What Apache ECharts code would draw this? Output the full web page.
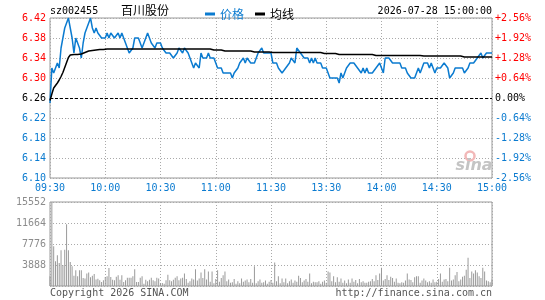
<!DOCTYPE html>
<html><head><meta charset="utf-8">
<script src="https://cdn.jsdelivr.net/npm/echarts/dist/echarts.min.js"></script>
<style>html,body{margin:0;padding:0;background:#fff}#c{width:545px;height:300px}</style>
</head><body><div id="c"></div>
<script>
const stockCode = 'sz002455';
const stockName = '百川股份';
const dateText = '2026-07-28 15:00:00';
const legendNames = ['价格', '均线'];
const prevClose = 6.26;
const timeLabels = ['09:30','10:00','10:30','11:00','11:30','13:30','14:00','14:30','15:00'];
const volMax = 15552;
const volStep = 3888;

const price = [
6.25,6.32,6.31,6.32,6.33,6.32,6.36,6.38,6.40,6.40,
6.42,6.40,6.38,6.35,6.38,6.37,6.36,6.34,6.37,6.39,
6.40,6.41,6.42,6.40,6.39,6.40,6.39,6.39,6.38,6.38,
6.38,6.39,6.38,6.39,6.39,6.38,6.38,6.39,6.38,6.39,
6.38,6.37,6.36,6.35,6.35,6.36,6.38,6.38,6.38,6.37,
6.36,6.37,6.38,6.39,6.38,6.37,6.37,6.36,6.37,6.37,
6.37,6.36,6.36,6.35,6.35,6.35,6.35,6.34,6.34,6.35,
6.36,6.36,6.35,6.36,6.36,6.35,6.35,6.33,6.32,6.33,
6.33,6.32,6.35,6.34,6.34,6.34,6.35,6.34,6.34,6.34,
6.33,6.32,6.32,6.32,6.31,6.31,6.31,6.31,6.31,6.30,
6.31,6.31,6.32,6.33,6.33,6.34,6.33,6.34,6.34,6.33,
6.33,6.33,6.34,6.35,6.35,6.36,6.35,6.35,6.35,6.35,
6.35,6.33,6.33,6.33,6.32,6.32,6.31,6.31,6.32,6.32,
6.33,6.34,6.34,6.33,6.36,6.36,6.35,6.35,6.34,6.34,
6.34,6.33,6.34,6.33,6.34,6.33,6.33,6.33,6.32,6.32,
6.32,6.32,6.30,6.30,6.30,6.30,6.30,6.29,6.31,6.30,
6.31,6.32,6.32,6.33,6.33,6.33,6.33,6.32,6.32,6.31,
6.32,6.31,6.32,6.31,6.31,6.31,6.31,6.32,6.32,6.33,
6.32,6.31,6.34,6.34,6.34,6.34,6.33,6.33,6.33,6.33,
6.33,6.32,6.32,6.32,6.31,6.31,6.30,6.30,6.30,6.31,
6.32,6.31,6.32,6.33,6.33,6.33,6.32,6.33,6.32,6.31,
6.32,6.32,6.32,6.32,6.33,6.33,6.32,6.30,6.30,6.31,
6.32,6.32,6.32,6.32,6.32,6.31,6.31,6.32,6.33,6.33,
6.33,6.33,6.34,6.34,6.35,6.34,6.34,6.35,6.35,6.35,
6.35];

const avg = [
6.255,6.268,6.280,6.285,6.290,6.296,6.303,6.311,6.321,6.331,
6.341,6.346,6.347,6.347,6.347,6.347,6.347,6.348,6.350,6.351,
6.352,6.354,6.355,6.355,6.356,6.356,6.356,6.357,6.357,6.357,
6.357,6.358,6.358,6.358,6.358,6.358,6.358,6.358,6.358,6.358,
6.358,6.358,6.358,6.358,6.358,6.358,6.358,6.358,6.358,6.358,
6.358,6.358,6.358,6.358,6.358,6.358,6.358,6.358,6.358,6.358,
6.358,6.358,6.358,6.358,6.358,6.358,6.358,6.358,6.358,6.358,
6.358,6.358,6.358,6.358,6.358,6.358,6.358,6.358,6.358,6.358,
6.358,6.358,6.358,6.358,6.358,6.358,6.358,6.358,6.358,6.356,
6.356,6.356,6.356,6.356,6.356,6.354,6.354,6.354,6.354,6.354,
6.354,6.354,6.354,6.354,6.354,6.354,6.354,6.354,6.354,6.354,
6.354,6.352,6.352,6.352,6.352,6.352,6.352,6.352,6.352,6.352,
6.352,6.351,6.351,6.351,6.351,6.351,6.351,6.351,6.351,6.351,
6.351,6.351,6.351,6.351,6.351,6.351,6.351,6.351,6.351,6.351,
6.351,6.351,6.351,6.351,6.351,6.351,6.351,6.351,6.351,6.349,
6.349,6.349,6.349,6.349,6.349,6.349,6.349,6.347,6.347,6.347,
6.347,6.347,6.347,6.347,6.347,6.347,6.347,6.347,6.347,6.347,
6.347,6.347,6.347,6.347,6.347,6.347,6.347,6.345,6.345,6.345,
6.345,6.345,6.345,6.345,6.345,6.345,6.345,6.345,6.345,6.345,
6.345,6.345,6.345,6.345,6.345,6.345,6.345,6.345,6.345,6.345,
6.345,6.345,6.344,6.344,6.344,6.344,6.344,6.344,6.344,6.344,
6.344,6.344,6.344,6.344,6.344,6.344,6.344,6.344,6.344,6.344,
6.344,6.344,6.344,6.344,6.344,6.342,6.342,6.342,6.342,6.342,
6.342,6.342,6.342,6.342,6.342,6.342,6.342,6.342,6.342,6.342,
6.342];

const volume = [
1800,15552,7350,4570,5680,4260,6600,3870,6720,11420,
6600,4440,3640,1900,2900,1800,2900,2900,1500,1370,
2300,2500,1600,1900,2200,1200,1350,1050,750,1060,
1680,1800,3340,1650,1180,1050,1700,2000,1180,2000,
750,1050,1550,1550,1550,1800,3100,740,750,1550,
1800,430,1180,870,1180,1550,1060,870,1550,1370,
560,560,430,1060,2100,1060,870,1180,1550,1800,
1060,1370,1550,2300,1300,600,900,1400,1200,3100,
1000,1400,2500,1500,3100,1200,2700,800,2700,500,
1300,2900,800,1500,2000,2700,900,1200,600,700,
1300,400,900,500,1400,800,1000,1200,700,1300,
600,3640,500,900,1200,600,700,1000,400,800,
1100,600,4330,900,1800,500,1400,700,1400,500,
900,1200,600,1000,800,1900,1500,700,1000,1300,
800,2300,500,800,700,700,900,400,800,1000,
600,2700,2500,900,1800,700,1600,800,1400,600,
1000,500,1200,600,1400,800,1100,500,1300,700,
900,600,600,800,900,1300,900,2000,1100,2300,
3400,1000,1300,2000,1100,1700,1500,800,1400,600,
500,700,600,1000,2300,1200,1100,700,1600,1800,
1800,600,1000,1400,1000,700,900,600,1200,700,
800,1300,2300,800,1200,1300,900,3400,1000,1200,
2000,2600,900,1200,1700,1900,3000,5250,1500,2700,
2300,2900,2500,1800,1500,3400,2700,1000,900,700,
1200];

const BLUE = '#0b7bd0', RED = '#ff0000', GREY = '#9a9a9a';
const MONO = 'DejaVu Sans Mono';
const CJK = 'Noto Sans CJK SC';

const chart = echarts.init(document.getElementById('c'), null, {renderer: 'canvas'});
const pctColor = v => { const n = parseFloat(v); return Math.abs(n) < 1e-9 ? '#000' : (n > 0 ? RED : BLUE); };
const dotted = {show: true, lineStyle: {color: '#aaa', type: [1, 2], width: 1}};

chart.setOption({
  animation: false,
  backgroundColor: '#fff',
  legend: {
    left: 200, top: 3, itemWidth: 10, itemHeight: 3, itemGap: 11, icon: 'rect',
    textStyle: {fontFamily: CJK, fontSize: 12, padding: [0, 0, 0, 0]},
    data: [{name: legendNames[0], textStyle: {color: BLUE}}, {name: legendNames[1], textStyle: {color: '#000'}}],
    selectedMode: false
  },
  grid: [
    {left: 50, top: 18, width: 442, height: 160, show: true, borderColor: '#9a9a9a', borderWidth: 1, containLabel: false, outerBoundsMode: 'none'},
    {left: 50, top: 202, width: 442, height: 84, show: true, borderColor: '#9a9a9a', borderWidth: 1, containLabel: false, outerBoundsMode: 'none'}
  ],
  xAxis: [
    {type: 'value', gridIndex: 0, min: 0, max: 240, interval: 30,
     axisLine: {show: false}, axisTick: {show: false}, splitLine: dotted,
     axisLabel: {color: BLUE, fontFamily: MONO, fontSize: 10, margin: 5,
       formatter: v => timeLabels[Math.round(v / 30)] || ''}},
    {type: 'value', gridIndex: 1, min: 0, max: 240, interval: 30,
     axisLine: {show: false}, axisTick: {show: false}, splitLine: dotted,
     axisLabel: {show: false}}
  ],
  yAxis: [
    {type: 'value', gridIndex: 0, min: -0.16, max: 0.16, interval: 0.04, position: 'left',
     axisLine: {show: false}, axisTick: {show: false}, splitLine: dotted,
     axisLabel: {fontFamily: MONO, fontSize: 10, margin: 4, color: pctColor,
       formatter: v => (prevClose + v).toFixed(2)}},
    {type: 'value', gridIndex: 0, min: -0.16, max: 0.16, interval: 0.04, position: 'right',
     axisLine: {show: false}, axisTick: {show: false}, splitLine: {show: false},
     axisLabel: {fontFamily: MONO, fontSize: 10, margin: 3, color: pctColor,
       formatter: v => { const p = v / prevClose * 100; if (Math.abs(p) < 1e-9) return '0.00%'; return (p > 0 ? '+' : '') + p.toFixed(2) + '%'; }}},
    {type: 'value', gridIndex: 1, min: 0, max: volMax, interval: volStep, position: 'left',
     axisLine: {show: false}, axisTick: {show: false}, splitLine: dotted,
     axisLabel: {fontFamily: MONO, fontSize: 10, margin: 4, color: '#8c8c8c',
       formatter: v => v === 0 ? '' : String(v)}}
  ],
  series: [
    {name: legendNames[0], type: 'line', xAxisIndex: 0, yAxisIndex: 0, symbol: 'none', z: 3,
     lineStyle: {color: BLUE, width: 1.5}, itemStyle: {color: BLUE},
     data: price.map((p, i) => [i, +(p - prevClose).toFixed(4)]),
     markLine: {silent: true, symbol: ['none', 'none'], label: {show: false},
       lineStyle: {color: '#000', type: [3, 2], width: 1},
       data: [{yAxis: 0}]}},
    {name: legendNames[1], type: 'line', xAxisIndex: 0, yAxisIndex: 0, symbol: 'none', z: 4,
     lineStyle: {color: '#000', width: 1.5}, itemStyle: {color: '#000'},
     data: avg.map((p, i) => [i, +(p - prevClose).toFixed(4)])},
    {name: 'vol', type: 'bar', xAxisIndex: 1, yAxisIndex: 2, barWidth: 1,
     itemStyle: {color: GREY}, data: volume.map((v, i) => [i, v])}
  ],
  graphic: [
    {type: 'text', x: 50, y: 11, style: {text: stockCode, font: '10px ' + MONO, fill: '#000', textAlign: 'left', textVerticalAlign: 'middle'}},
    {type: 'text', x: 121, y: 10, style: {text: stockName, font: '12px "' + CJK + '"', fill: '#000', textAlign: 'left', textVerticalAlign: 'middle'}},
    {type: 'text', x: 492, y: 11, style: {text: dateText, font: '10px ' + MONO, fill: '#000', textAlign: 'right', textVerticalAlign: 'middle'}},
    {type: 'text', x: 50, y: 293, style: {text: 'Copyright 2026 SINA.COM', font: '10px ' + MONO, fill: '#555', textAlign: 'left', textVerticalAlign: 'middle'}},
    {type: 'text', x: 492, y: 293, style: {text: 'http://finance.sina.com.cn', font: '10px ' + MONO, fill: '#555', textAlign: 'right', textVerticalAlign: 'middle'}},
    {type: 'circle', shape: {cx: 470, cy: 156, r: 4.5}, style: {fill: 'none', stroke: '#f2b8b8', lineWidth: 2.5}, z: 1},
    {type: 'text', x: 474, y: 166, style: {text: 'sina', font: 'italic bold 16px "DejaVu Sans"', fill: '#c4c4c4', textAlign: 'center', textVerticalAlign: 'middle'}, z: 1}
  ]
});
</script></body></html>
